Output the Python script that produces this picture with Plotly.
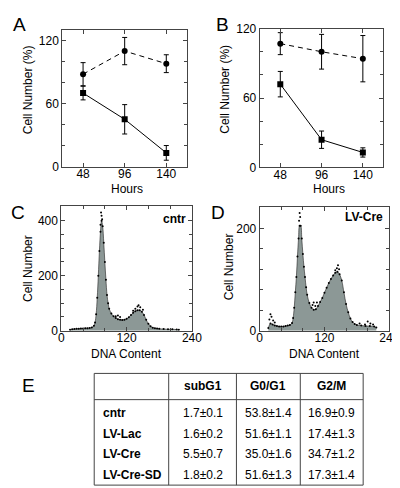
import plotly.graph_objects as go

W, H = 400, 488
FONT = "Liberation Sans, Arial, sans-serif"

# ---------------- data ----------------
hours = ["48", "96", "140"]
# Panel A
a_ctrl = [88, 110, 98]
a_ctrl_err = [11, 13, 8.5]
a_cre = [70, 45, 13]
a_cre_err = [6.5, 14, 7]
# Panel B
b_ctrl = [107, 100, 94]
b_ctrl_err = [9.5, 15, 20]
b_cre = [72, 24, 13]
b_cre_err = [11, 7.5, 4]

# Panel C (cntr) DNA histogram
c_dna = [16, 20, 24, 28, 32, 36, 40, 44, 48, 52, 56, 60, 62, 64, 66, 68, 70, 72, 74, 76, 78, 80,
         82, 84, 86, 88, 92, 96, 100, 104, 108, 112, 116, 120, 124, 128, 132, 136, 140, 144,
         148, 152, 156, 160, 164, 168, 172, 176, 180, 188, 196, 204, 212, 216]
c_cnt = [3, 5, 6, 7, 7, 8, 8, 9, 9, 10, 12, 18, 30, 60, 120, 200, 290, 360, 400, 380, 320, 250,
         185, 130, 100, 80, 62, 52, 46, 42, 40, 39, 40, 43, 49, 57, 65, 71, 74, 74,
         69, 57, 40, 25, 16, 11, 9, 8, 7, 6, 5, 5, 4, 3]
c_dot_dna = [72, 73, 74, 75, 100, 104, 108, 132, 136, 140, 142, 145, 150]
c_dot_cnt = [385, 430, 418, 405, 52, 55, 50, 72, 80, 88, 92, 85, 76]

# Panel D (LV-Cre) DNA histogram
d_dna = [16, 20, 24, 28, 32, 36, 40, 44, 48, 52, 56, 60, 62, 64, 66, 68, 70, 72, 74, 76, 78, 80,
         82, 84, 86, 88, 92, 96, 100, 104, 108, 112, 116, 120, 124, 128, 132, 136, 140, 144,
         148, 152, 156, 160, 164, 168, 172, 176, 180, 188, 196, 204, 212, 216]
d_cnt = [5, 14, 12, 10, 9, 8, 8, 8, 9, 10, 11, 15, 25, 45, 75, 105, 145, 180, 205, 205, 180, 150,
         125, 105, 85, 70, 54, 45, 41, 42, 48, 56, 64, 74, 84, 93, 101, 108, 113, 115,
         110, 98, 75, 52, 36, 24, 17, 13, 11, 10, 9, 9, 8, 6]
d_dot_dna = [18, 20, 22, 25, 28, 73, 74, 75, 98, 100, 103, 106, 140, 143, 145, 147, 185, 195, 200, 205, 210]
d_dot_cnt = [22, 32, 27, 20, 16, 215, 230, 222, 50, 55, 48, 55, 118, 122, 128, 120, 14, 12, 18, 14, 12]

# Panel E table
row_labels = ["cntr", "LV-Lac", "LV-Cre", "LV-Cre-SD"]
col_labels = ["subG1", "G0/G1", "G2/M"]
subg1_mean = [1.7, 1.6, 5.5, 1.8]
subg1_sd = [0.1, 0.2, 0.7, 0.2]
g0g1_mean = [53.8, 51.6, 35.0, 51.6]
g0g1_sd = [1.4, 1.1, 1.6, 1.3]
g2m_mean = [16.9, 17.4, 34.7, 17.3]
g2m_sd = [0.9, 1.3, 1.2, 1.4]

# ---------------- helpers ----------------
def xd(a, b):
    return [a / W, b / W]

def yd(top, bottom):
    return [1 - bottom / H, 1 - top / H]

def px(x):
    return x / W

def py(y):
    return 1 - y / H

fill_col = "#8c9896"
frame_col = "#444444"

fig = go.Figure()

def growth(series, err, xa, ya, dashed, symbol):
    fig.add_trace(go.Scatter(
        x=hours, y=series, xaxis=xa, yaxis=ya, mode="lines+markers",
        line=dict(color="black", width=1, dash="5px,4px" if dashed else "solid"),
        marker=dict(symbol=symbol, size=6, color="black"),
        error_y=dict(type="data", array=err, visible=True, color="black", thickness=1, width=2.5),
        showlegend=False, hoverinfo="skip"))

growth(a_ctrl, a_ctrl_err, "x", "y", True, "circle")
growth(a_cre, a_cre_err, "x", "y", False, "square")
growth(b_ctrl, b_ctrl_err, "x2", "y2", True, "circle")
growth(b_cre, b_cre_err, "x2", "y2", False, "square")

def hist(dna, cnt, ddna, dcnt, xa, ya):
    fig.add_trace(go.Scatter(
        x=dna, y=cnt, xaxis=xa, yaxis=ya, mode="lines+markers", fill="tozeroy",
        fillcolor=fill_col, line=dict(color="#222222", width=0.6, shape="spline"),
        marker=dict(size=2, color="black"), showlegend=False, hoverinfo="skip"))
    fig.add_trace(go.Scatter(
        x=ddna, y=dcnt, xaxis=xa, yaxis=ya, mode="markers",
        marker=dict(size=2, color="black"), showlegend=False, hoverinfo="skip"))

hist(c_dna, c_cnt, c_dot_dna, c_dot_cnt, "x3", "y3")
hist(d_dna, d_cnt, d_dot_dna, d_dot_cnt, "x4", "y4")

tickfont = dict(family=FONT, size=12, color="black")
common = dict(showline=True, linecolor=frame_col, linewidth=1, mirror="ticks", ticks="inside",
              ticklen=4, tickcolor=frame_col, showgrid=False, zeroline=False, tickfont=tickfont)
xcommon = dict(common, ticklabelstandoff=-4)

layout = dict(
    width=W, height=H, margin=dict(l=0, r=0, t=0, b=0),
    paper_bgcolor="white", plot_bgcolor="white", font=dict(family=FONT, color="black"),
    xaxis=dict(domain=xd(53, 182), anchor="y", type="category", range=[-0.5, 2.5], **xcommon),
    yaxis=dict(domain=yd(15, 156), anchor="x", range=[0, 130.5], tickvals=[0, 60, 120],
               minor=dict(dtick=20, ticks="inside", ticklen=3, tickcolor=frame_col), **common),
    xaxis2=dict(domain=xd(257, 385), anchor="y2", type="category", range=[-0.5, 2.5], **xcommon),
    yaxis2=dict(domain=yd(14, 157), anchor="x2", range=[0, 120], tickvals=[0, 60, 120],
                minor=dict(dtick=20, ticks="inside", ticklen=3, tickcolor=frame_col), **common),
    xaxis3=dict(domain=xd(52, 187), anchor="y3", range=[0, 240], tickvals=[0, 120, 240],
                minor=dict(dtick=40, ticks="inside", ticklen=3, tickcolor=frame_col), **xcommon),
    yaxis3=dict(domain=yd(197, 325), anchor="x3", range=[0, 452], tickvals=[0, 200, 400],
                minor=dict(dtick=50, ticks="inside", ticklen=3, tickcolor=frame_col), **common),
    xaxis4=dict(domain=xd(257, 391), anchor="y4", range=[0, 240], tickvals=[0, 120, 240],
                minor=dict(dtick=40, ticks="inside", ticklen=3, tickcolor=frame_col), **xcommon),
    yaxis4=dict(domain=yd(198, 325), anchor="x4", range=[0, 241], tickvals=[0, 200],
                minor=dict(dtick=40, ticks="inside", ticklen=3, tickcolor=frame_col), **common),
)
fig.update_layout(**layout)

ann = []
def text(x, y, s, size=12, bold=False, angle=0, xanchor="center"):
    ann.append(dict(x=px(x), y=py(y), xref="paper", yref="paper", text=f"<b>{s}</b>" if bold else s,
                    showarrow=False, textangle=angle, xanchor=xanchor, yanchor="middle",
                    font=dict(family=FONT, size=size, color="black")))

# panel letters
text(9, 10, "A", 19)
text(219, 10, "B", 19)
text(7, 203, "C", 19)
text(214, 203, "D", 19)
text(18, 381, "E", 19)

# axis titles
text(17, 77, "Cell Number (%)", angle=-90)
text(120, 179.5, "Hours")
text(221, 76, "Cell Number (%)", angle=-90)
text(329, 179.5, "Hours")
text(17, 261, "Cell Number", angle=-90)
text(119, 348.5, "DNA Content")
text(225, 259, "Cell Number", angle=-90)
text(324, 348.5, "DNA Content")

# histogram labels
text(183, 210, "cntr", bold=True, xanchor="right")
text(387, 208, "LV-Cre", bold=True, xanchor="right")

# table
tl, tr, tt, tb = 86, 364, 369, 484
hline = 396
vlines = [163, 233, 299]
shapes = [dict(type="rect", xref="paper", yref="paper", x0=px(tl), x1=px(tr), y0=py(tb), y1=py(tt),
               line=dict(color=frame_col, width=1))]
shapes.append(dict(type="line", xref="paper", yref="paper", x0=px(tl), x1=px(tr), y0=py(hline), y1=py(hline),
                   line=dict(color=frame_col, width=1)))
for v in vlines:
    shapes.append(dict(type="line", xref="paper", yref="paper", x0=px(v), x1=px(v), y0=py(tb), y1=py(tt),
                       line=dict(color=frame_col, width=1)))

col_edges = vlines + [tr]
col_centers = [(col_edges[i] + col_edges[i + 1]) / 2 for i in range(3)]
header_y = 382
row_ys = [410, 431, 452, 474]
for c, lab in zip(col_centers, col_labels):
    text(c, header_y, lab, bold=True)
cols = [(subg1_mean, subg1_sd), (g0g1_mean, g0g1_sd), (g2m_mean, g2m_sd)]
for i, (lab, ry) in enumerate(zip(row_labels, row_ys)):
    text(93, ry, lab, bold=True, xanchor="left")
    for c, (m, s) in zip(col_centers, cols):
        text(c, ry, f"{m[i]:.1f}±{s[i]:.1f}")

fig.update_layout(annotations=ann, shapes=shapes)
fig.write_html("out.html")
